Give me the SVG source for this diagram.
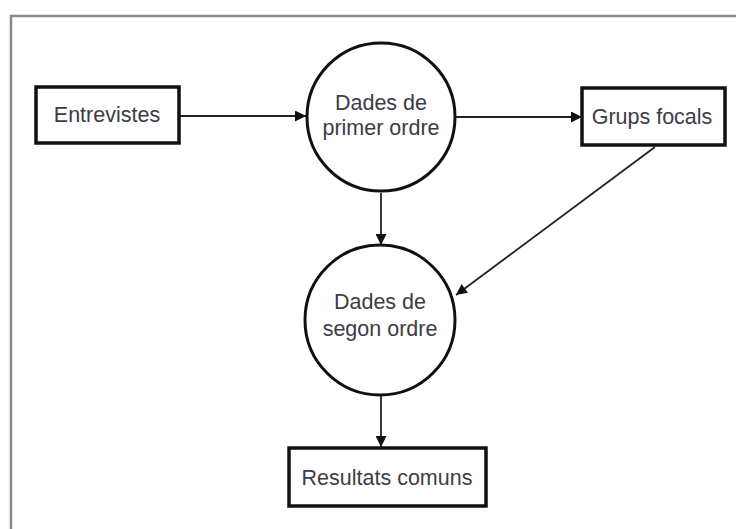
<svg xmlns="http://www.w3.org/2000/svg" width="736" height="529" viewBox="0 0 736 529">
<defs>
<style>
.box{fill:#fff;stroke:#111;stroke-width:3.5}
.circ{fill:#fff;stroke:#111;stroke-width:3}
.lbl{font-family:"Liberation Sans",Arial,sans-serif;font-size:21.5px;fill:#3c3c46;text-anchor:middle}
.conn{stroke:#222;stroke-width:1.8;fill:none;marker-end:url(#arr)}
</style>
<marker id="arr" viewBox="0 0 10 10" refX="10" refY="5" markerWidth="12" markerHeight="11" markerUnits="userSpaceOnUse" orient="auto">
<path d="M0,0 L10,5 L0,10 z" fill="#111"/>
</marker>
</defs>
<rect width="736" height="529" fill="#fff"/>
<path d="M11,529 V16 H736" fill="none" stroke="#8a8a8a" stroke-width="2.5"/>
<g id="connectors">
<line class="conn" x1="180" y1="116" x2="306" y2="116"/>
<line class="conn" x1="456" y1="117" x2="582" y2="117"/>
<line class="conn" x1="381" y1="193" x2="381" y2="245"/>
<line class="conn" x1="655" y1="147" x2="456" y2="295"/>
<line class="conn" x1="381" y1="396" x2="381" y2="447"/>
</g>
<g id="entrevistes">
<rect class="box" x="36" y="87" width="143" height="56"/>
<text class="lbl" x="107" y="122">Entrevistes</text>
</g>
<g id="dades1">
<circle class="circ" cx="381" cy="117" r="74"/>
<text class="lbl" x="381" y="110">Dades de</text>
<text class="lbl" x="381" y="135">primer ordre</text>
</g>
<g id="grups">
<rect class="box" x="582" y="88" width="143" height="57"/>
<text class="lbl" x="652" y="124">Grups focals</text>
</g>
<g id="dades2">
<circle class="circ" cx="380" cy="320" r="75"/>
<text class="lbl" x="380" y="309">Dades de</text>
<text class="lbl" x="380" y="336">segon ordre</text>
</g>
<g id="resultats">
<rect class="box" x="289" y="448" width="197" height="58"/>
<text class="lbl" x="387" y="485">Resultats comuns</text>
</g>
</svg>
